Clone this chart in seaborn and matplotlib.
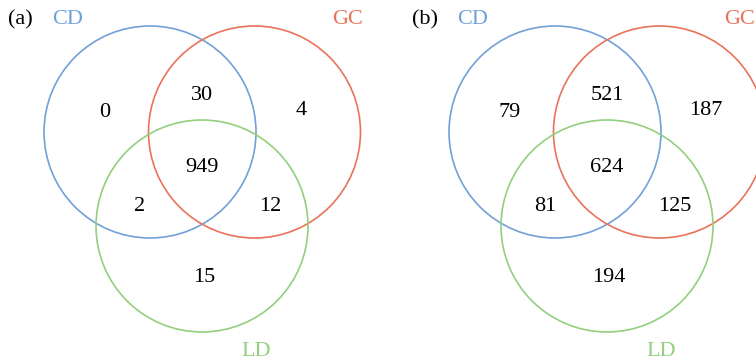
import matplotlib
matplotlib.use("Agg")
import matplotlib.pyplot as plt
from matplotlib.patches import Circle
import seaborn as sns

sns.set_theme(style="white")
plt.rcParams["font.family"] = ["Liberation Serif", "DejaVu Serif"]

# Set names and their colours
set_names = ["CD", "GC", "LD"]
set_colors = ["#72a0d8", "#e8735a", "#93cf7f"]

# Region counts: CD only, CD&GC, GC only, all three, CD&LD, GC&LD, LD only
region_keys = ["100", "110", "010", "111", "101", "011", "001"]
counts_a = [0, 30, 4, 949, 2, 12, 15]
counts_b = [79, 521, 187, 624, 81, 125, 194]
panel_tags = ["(a)", "(b)"]

# Diagram layout (pixels, relative to each panel's origin)
FIG_W, FIG_H = 756, 363
RADIUS = 106
circle_centers = {"CD": (150, 132), "GC": (254.5, 132), "LD": (202, 226)}
# set labels: (anchor x, y, horizontal alignment)
set_label_pos = {"CD": (52, 20, "left"), "GC": (363, 20, "right"),
                 "LD": (256, 352, "center")}
region_pos = {
    "100": (105, 110), "110": (202, 93), "010": (301, 108),
    "111": (202, 165), "101": (140, 204), "011": (270, 204),
    "001": (204, 275),
}
tag_pos = (20, 20)
panel_offsets = [0, 405]

fig = plt.figure(figsize=(FIG_W / 100, FIG_H / 100), dpi=100)
ax = fig.add_axes([0, 0, 1, 1])
ax.set_xlim(0, FIG_W)
ax.set_ylim(FIG_H, 0)
ax.set_aspect("equal")
ax.axis("off")

for tag, counts, dx in zip(panel_tags, [counts_a, counts_b], panel_offsets):
    for name, col in zip(set_names, set_colors):
        cx, cy = circle_centers[name]
        ax.add_patch(Circle((cx + dx, cy), RADIUS, fill=False,
                            edgecolor=col, linewidth=1.2))
        lx, ly, ha = set_label_pos[name]
        # keep labels inside the figure
        ax.text(min(lx + dx, FIG_W - 1), ly, name, color=col, fontsize=16,
                ha=ha, va="center")
    for key, val in zip(region_keys, counts):
        px, py = region_pos[key]
        ax.text(px + dx, py, str(val), color="black", fontsize=16,
                ha="center", va="center_baseline")
    ax.text(tag_pos[0] + dx, tag_pos[1], tag, color="black", fontsize=16,
            ha="center", va="center")

fig.savefig("out.png", dpi=100)
